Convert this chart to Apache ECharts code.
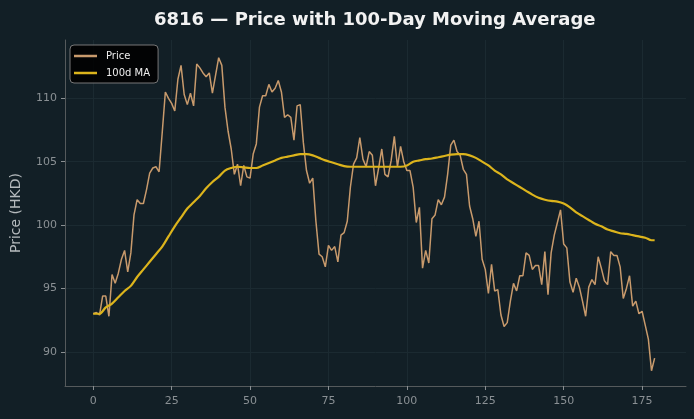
<!DOCTYPE html>
<html>
<head>
<meta charset="utf-8">
<script src="https://cdn.jsdelivr.net/npm/echarts@6/dist/echarts.min.js"></script>
<style>
  html, body { margin: 0; padding: 0; background: #121f26; }
  #chart { width: 694px; height: 419px; }
</style>
</head>
<body>
<div id="chart"></div>
<script>
  // daily closing price, index 0..179
  const price = [
    93.0, 93.1, 92.9, 94.4, 94.4, 92.8, 96.1, 95.4, 96.2, 97.3,
    98.0, 96.3, 97.8, 100.8, 102.0, 101.7, 101.7, 102.8, 104.1, 104.5,
    104.6, 104.2, 107.3, 110.5, 110.0, 109.6, 109.0, 111.5, 112.6, 110.3,
    109.5, 110.4, 109.4, 112.7, 112.4, 112.0, 111.7, 112.0, 110.4, 111.8,
    113.2, 112.6, 109.3, 107.4, 106.0, 104.0, 104.8, 103.1, 104.7, 103.8,
    103.7, 105.6, 106.4, 109.3, 110.2, 110.2, 111.1, 110.5, 110.8, 111.4,
    110.5, 108.5, 108.7, 108.5, 106.7, 109.4, 109.5, 106.5, 104.3, 103.3,
    103.7, 100.3, 97.7, 97.5, 96.7, 98.4, 98.0, 98.3, 97.1, 99.2,
    99.4, 100.3, 103.0, 104.8, 105.3, 106.9, 105.2, 104.6, 105.8, 105.5,
    103.1, 104.5, 106.0, 104.0, 103.8, 105.1, 107.0, 104.6, 106.2, 105.0,
    104.3, 104.3, 103.0, 100.2, 101.4, 96.6, 98.0, 97.0, 100.5, 100.8,
    102.0, 101.6, 102.2, 104.0, 106.3, 106.7, 105.8, 105.5, 104.4, 104.0,
    101.5, 100.5, 99.1, 100.3, 97.3, 96.5, 94.6, 96.9, 94.8, 94.9,
    92.9, 92.0, 92.3, 94.0, 95.4, 94.8, 96.0, 96.0, 97.8, 97.6,
    96.5, 96.8, 96.8, 95.3, 97.9, 94.5, 97.8, 99.2, 100.2, 101.2,
    98.5, 98.2, 95.5, 94.7, 95.8, 95.1, 94.0, 92.8, 95.1, 95.7,
    95.3, 97.5, 96.6, 95.6, 95.3, 97.9, 97.6, 97.6, 96.7, 94.2,
    95.0, 96.0, 93.6, 94.0, 93.0, 93.2, 92.1, 91.0, 88.5, 89.5
  ];

  // 100-day moving average, read at every other day
  const maDays = [
    0, 2, 4, 6, 8, 10, 12, 14, 16, 18, 20, 22, 24, 26, 28, 30, 32, 34, 36, 38,
    40, 42, 44, 46, 48, 50, 52, 54, 56, 58, 60, 62, 64, 66, 68, 70, 72, 74, 76, 78,
    80, 82, 84, 86, 88, 90, 92, 94, 96, 98, 100, 102, 104, 106, 108, 110, 112, 114, 116, 118,
    120, 122, 124, 126, 128, 130, 132, 134, 136, 138, 140, 142, 144, 146, 148, 150, 152, 154, 156, 158,
    160, 162, 164, 166, 168, 170, 172, 174, 176, 178, 179
  ];
  const maValues = [
    93.0, 93.0, 93.5, 93.8, 94.3, 94.8, 95.2, 95.9, 96.5, 97.1, 97.7, 98.3, 99.1, 99.9, 100.6, 101.3, 101.8, 102.3, 102.9, 103.4,
    103.8, 104.3, 104.5, 104.6, 104.55, 104.5, 104.5, 104.7, 104.9, 105.1, 105.3, 105.4, 105.5, 105.6, 105.6, 105.5, 105.3, 105.1, 104.95, 104.8,
    104.65, 104.6, 104.6, 104.6, 104.6, 104.6, 104.6, 104.6, 104.6, 104.6, 104.7, 105.0, 105.1, 105.2, 105.25, 105.35, 105.45, 105.55, 105.6, 105.6,
    105.5, 105.3, 105.0, 104.7, 104.3, 104.0, 103.6, 103.3, 103.0, 102.7, 102.4, 102.15, 102.0, 101.9, 101.85, 101.7, 101.4, 101.0, 100.7, 100.4,
    100.1, 99.9, 99.65, 99.5, 99.35, 99.3, 99.2, 99.1, 99.0, 98.8, 98.8
  ];

  const xTicks = [0, 25, 50, 75, 100, 125, 150, 175];
  const yTicks = [90, 95, 100, 105, 110];

  const priceData = price.map((v, i) => [i, v]);
  const maData = maDays.map((d, i) => [d, maValues[i]]);

  const mychart = echarts.init(document.getElementById('chart'));
  const option = {
    backgroundColor: '#121f26',
    title: {
      text: '6816 — Price with 100-Day Moving Average',
      left: 149,
      top: 6,
      textStyle: { color: '#f2f2f2', fontSize: 18, fontWeight: 'bold', fontFamily: 'DejaVu Sans' }
    },
    legend: {
      orient: 'vertical',
      left: 70,
      top: 45,
      backgroundColor: 'rgba(0,0,0,0.88)',
      borderColor: '#777',
      borderWidth: 1,
      borderRadius: 4,
      padding: [6, 8, 5, 4],
      itemGap: 7,
      itemWidth: 23,
      itemHeight: 2.5,
      icon: 'rect',
      textStyle: { color: '#eeeeee', fontSize: 10, fontFamily: 'DejaVu Sans', padding: [0, 0, 0, 4] },
      data: ['Price', '100d MA']
    },
    grid: { left: 65, right: 8, top: 40, bottom: 33 },
    xAxis: {
      type: 'value',
      min: -9,
      max: 189,
      axisLine: { show: true, onZero: false, lineStyle: { color: '#555a5c' } },
      axisTick: { show: true, customValues: xTicks, length: 4, lineStyle: { color: '#8a8f92' } },
      axisLabel: { customValues: xTicks, color: '#8a9094', fontSize: 11, margin: 10, fontFamily: 'DejaVu Sans' },
      splitLine: { show: true, lineStyle: { color: '#1b2a31', width: 1 } }
    },
    yAxis: {
      type: 'value',
      min: 87.3,
      max: 114.6,
      name: 'Price (HKD)',
      nameLocation: 'middle',
      nameGap: 42,
      nameTextStyle: { color: '#b5babd', fontSize: 14, fontFamily: 'DejaVu Sans' },
      axisLine: { show: true, onZero: false, lineStyle: { color: '#555a5c' } },
      axisTick: { show: true, customValues: yTicks, length: 4, lineStyle: { color: '#8a8f92' } },
      axisLabel: { customValues: yTicks, color: '#8a9094', fontSize: 11, margin: 8, fontFamily: 'DejaVu Sans' },
      splitLine: { show: true, lineStyle: { color: '#1b2a31', width: 1 } }
    },
    series: [
      {
        name: 'Price',
        type: 'line',
        data: priceData,
        symbol: 'none',
        lineStyle: { color: '#c89a6c', width: 1.5 },
        itemStyle: { color: '#c89a6c' }
      },
      {
        name: '100d MA',
        type: 'line',
        data: maData,
        symbol: 'none',
        smooth: 0.3,
        lineStyle: { color: '#dcb41c', width: 2.2 },
        itemStyle: { color: '#dcb41c' }
      }
    ]
  };
  mychart.setOption(option);
</script>
</body>
</html>
